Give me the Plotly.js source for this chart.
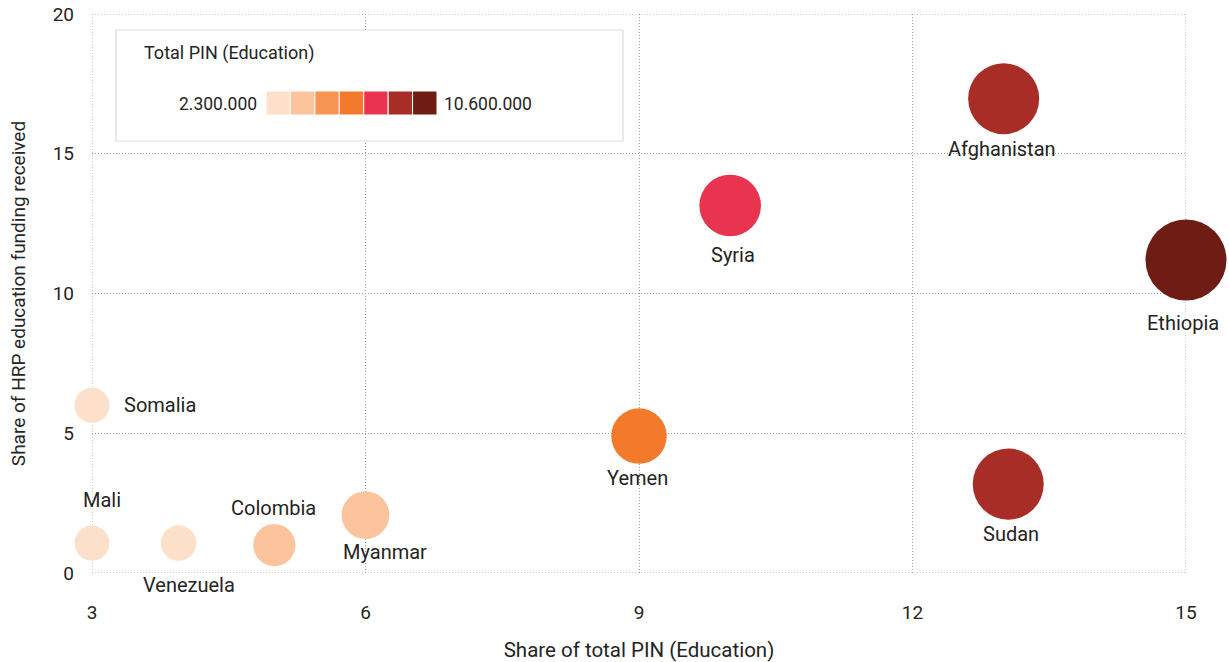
<!DOCTYPE html>
<html>
<head>
<meta charset="utf-8">
<script src="https://cdn.plot.ly/plotly-3.0.1.min.js"></script>
<style>
  html, body { margin: 0; padding: 0; background: #fff; }
  #chart { width: 1229px; height: 662px; }
</style>
</head>
<body>
<div id="chart"></div>
<script>
// ---- data ----
const countries = ["Somalia", "Mali", "Venezuela", "Colombia", "Myanmar", "Yemen", "Syria", "Afghanistan", "Sudan", "Ethiopia"];
const sharePIN = [3.0, 3.0, 3.95, 5.0, 6.0, 9.0, 10.0, 13.0, 13.05, 15.0];
const shareFunding = [6.0, 1.07, 1.07, 1.0, 2.07, 4.9, 13.15, 16.97, 3.18, 11.2];
const totalPIN = [2300000, 2300000, 2400000, 3600000, 4600000, 6000000, 7100000, 8800000, 8800000, 10600000];
const pinMin = 2300000;
const pinMax = 10600000;
const binColors = ["#fde0c9", "#fbc49c", "#f79552", "#f47a2b", "#e8344e", "#a82d26", "#6f1c14"];
const xTicks = [3, 6, 9, 12, 15];
const yTicks = [0, 5, 10, 15, 20];

// ---- styling helpers ----
const W = 1229, H = 662;
const M = { l: 92, r: 43, t: 14, b: 89 };
const PW = W - M.l - M.r, PH = H - M.t - M.b;
const px = v => (v - M.l) / PW;
const py = v => (H - M.b - v) / PH;
const FONT = "Roboto, 'DejaVu Sans', sans-serif";
const TXT = "#252423";
const GRID = "#9a9a9a";
const DASH = "1px,2px";

const colorFor = v => {
  let i = Math.floor((v - pinMin) / (pinMax - pinMin) * binColors.length);
  i = Math.max(0, Math.min(binColors.length - 1, i));
  return binColors[i];
};
const sizeFor = v => 35 + (v - pinMin) / (pinMax - pinMin) * 46;
const fmt = v => String(v).replace(/\B(?=(\d{3})+(?!\d))/g, ".");

// label offsets (pixels) relative to bubble centres
const labelOffset = {
  "Somalia": { dx: 30, dy: 0, anchor: "left" },
  "Mali": { dx: 10, dy: 43 },
  "Venezuela": { dx: 10, dy: -42 },
  "Colombia": { dx: -1, dy: 37 },
  "Myanmar": { dx: 19, dy: -37 },
  "Yemen": { dx: -2, dy: -42 },
  "Syria": { dx: 3, dy: -50 },
  "Afghanistan": { dx: -2, dy: -50 },
  "Sudan": { dx: 3, dy: -50 },
  "Ethiopia": { dx: -3, dy: -63 }
};

const trace = {
  type: "scatter",
  mode: "markers",
  x: sharePIN,
  y: shareFunding,
  text: countries,
  cliponaxis: false,
  hoverinfo: "text",
  marker: {
    size: totalPIN.map(sizeFor),
    sizemode: "diameter",
    color: totalPIN.map(colorFor),
    opacity: 1,
    line: { width: 0 }
  }
};

const annotations = countries.map((c, i) => {
  const o = labelOffset[c];
  return {
    x: sharePIN[i], y: shareFunding[i], xref: "x", yref: "y",
    text: c, showarrow: false,
    xanchor: o.anchor || "center", yanchor: "middle",
    xshift: o.dx, yshift: o.dy,
    font: { family: FONT, size: 20, color: TXT }
  };
});

const shapes = [];
// edge gridlines (Plotly omits grid at range ends)
[xTicks[0], xTicks[xTicks.length - 1]].forEach(v => {
  shapes.push({ type: "line", xref: "x", yref: "paper", x0: v, x1: v, y0: 0, y1: 1,
    line: { color: GRID, width: 1, dash: DASH }, layer: "below" });
});
[yTicks[0], yTicks[yTicks.length - 1]].forEach(v => {
  shapes.push({ type: "line", xref: "paper", yref: "y", x0: 0, x1: 1, y0: v, y1: v,
    line: { color: GRID, width: 1, dash: DASH }, layer: "below" });
});

// colour legend
shapes.push({
  type: "rect", xref: "paper", yref: "paper",
  x0: px(116), x1: px(623), y0: py(141), y1: py(30),
  line: { color: "#dcdcdc", width: 1.2 }, fillcolor: "#ffffff", layer: "above"
});
const swL = 266, swR = 437, swT = 91, swB = 115;
const swW = (swR - swL) / binColors.length;
binColors.forEach((c, i) => {
  shapes.push({
    type: "rect", xref: "paper", yref: "paper",
    x0: px(swL + i * swW), x1: px(swL + (i + 1) * swW), y0: py(swB), y1: py(swT),
    line: { color: "#ffffff", width: 1 }, fillcolor: c, layer: "above"
  });
});
annotations.push({
  xref: "paper", yref: "paper", x: px(142), y: py(53), xanchor: "left", yanchor: "middle",
  text: "Total PIN (Education)", showarrow: false,
  font: { family: FONT, size: 18, color: TXT }
});
annotations.push({
  xref: "paper", yref: "paper", x: px(259), y: py(104), xanchor: "right", yanchor: "middle",
  text: fmt(pinMin), showarrow: false,
  font: { family: FONT, size: 17.5, color: TXT }
});
annotations.push({
  xref: "paper", yref: "paper", x: px(442), y: py(104), xanchor: "left", yanchor: "middle",
  text: fmt(pinMax), showarrow: false,
  font: { family: FONT, size: 17.5, color: TXT }
});

const axisCommon = {
  showgrid: true, gridcolor: GRID, griddash: DASH, gridwidth: 1,
  zeroline: false, showline: false, ticks: "",
  tickfont: { family: FONT, size: 19, color: TXT },
  fixedrange: true
};

const layout = {
  width: W, height: H,
  margin: M,
  paper_bgcolor: "#ffffff", plot_bgcolor: "#ffffff",
  showlegend: false,
  xaxis: Object.assign({}, axisCommon, {
    range: [3, 15], tickvals: xTicks, ticktext: xTicks.map(String),
    ticklabelstandoff: 26,
    title: { text: "Share of total PIN (Education)", font: { family: FONT, size: 20.5, color: TXT }, standoff: 19 }
  }),
  yaxis: Object.assign({}, axisCommon, {
    range: [0, 20], tickvals: yTicks, ticktext: yTicks.map(String),
    ticklabelstandoff: 17,
    title: { text: "Share of HRP education funding received", font: { family: FONT, size: 19, color: TXT }, standoff: 21 }
  }),
  shapes: shapes,
  annotations: annotations
};

Plotly.newPlot("chart", [trace], layout, { displayModeBar: false, staticPlot: true });
</script>
</body>
</html>
